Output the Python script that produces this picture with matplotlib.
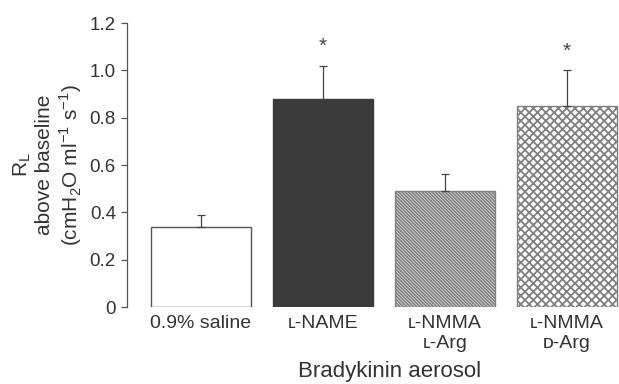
import matplotlib.pyplot as plt
import numpy as np

plt.rcParams['font.family'] = ['Liberation Sans', 'DejaVu Sans']

# data
groups = ['0.9% saline', 'ʟ-NAME', 'ʟ-NMMA\nʟ-Arg', 'ʟ-NMMA\nᴅ-Arg']
means = [0.34, 0.88, 0.49, 0.85]
sems = [0.05, 0.14, 0.07, 0.15]
signif = [False, True, False, True]
yticks = [0, 0.2, 0.4, 0.6, 0.8, 1.0, 1.2]
ytick_labels = ['0', '0.2', '0.4', '0.6', '0.8', '1.0', '1.2']

fills = ['white', '#3b3b3b', 'white', 'white']
hatches = [None, None, '\\' * 10, 'x' * 4]
edges = ['#555555', '#3b3b3b', '#808080', '#808080']

plt.rcParams['hatch.linewidth'] = 1.3

fig = plt.figure(figsize=(6.19, 3.84), dpi=100)
ax = fig.add_axes([127 / 619, 1 - 307 / 384, 492 / 619, 284 / 384])

x = np.arange(len(groups))
for i in range(len(groups)):
    ax.bar(x[i], means[i], width=0.82, color=fills[i], edgecolor=edges[i],
           hatch=hatches[i], linewidth=1.0, zorder=2)
ax.errorbar(x, means, yerr=[np.zeros(len(sems)), sems], fmt='none',
            ecolor='#444444', elinewidth=0.9, capsize=3, capthick=0.9, zorder=3)
for i in range(len(groups)):
    if signif[i]:
        ax.text(x[i], means[i] + sems[i] + 0.04, '*', ha='center', va='bottom',
                fontsize=15, color='#444444')

ax.set_xlim(-0.607, 3.426)
ax.set_ylim(0, 1.2)
ax.set_yticks(yticks)
ax.set_yticklabels(ytick_labels, fontsize=13.5, color='#333333')
ax.tick_params(axis='y', direction='out', length=4, width=0.9, color='#555555', pad=4)
ax.set_xticks(x)
ax.set_xticklabels(groups, fontsize=14, color='#333333', linespacing=1.2)
ax.tick_params(axis='x', length=0, pad=6)
for s in ['top', 'right', 'bottom']:
    ax.spines[s].set_visible(False)
ax.spines['left'].set_color('#555555')
ax.spines['left'].set_linewidth(0.9)

ax.set_ylabel('R$_\\mathregular{L}$\nabove baseline\n(cmH$_\\mathregular{2}$O ml$^\\mathregular{-1}$ s$^\\mathregular{-1}$)',
              fontsize=15, color='#333333', linespacing=1.15, labelpad=4)

fig.text(390 / 619, 1 - 372 / 384, 'Bradykinin aerosol', ha='center', va='center',
         fontsize=16, color='#333333')

fig.savefig('out.png', dpi=100)
